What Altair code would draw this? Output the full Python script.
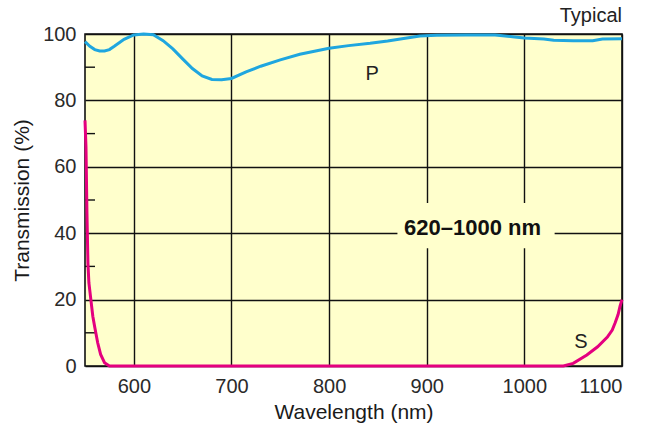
import altair as alt
import pandas as pd

# P-polarization transmission (%)
p_nm = [550, 555, 560, 565, 570, 575, 580, 590, 600, 610, 620, 630, 640, 650,
        660, 670, 680, 690, 700, 715, 730, 750, 770, 800, 820, 842, 860, 873,
        893, 910, 940, 970, 990, 1000, 1020, 1030, 1050, 1070, 1080, 1100]
p_val = [97.7, 96.3, 95.3, 94.9, 94.9, 95.3, 96.3, 98.4, 99.7, 100.0, 99.8,
         98.0, 95.5, 92.5, 89.6, 87.4, 86.3, 86.2, 86.6, 88.6, 90.3, 92.2,
         93.9, 95.7, 96.5, 97.2, 97.9, 98.5, 99.4, 99.6, 99.7, 99.7, 99.1,
         98.8, 98.5, 98.1, 98.0, 98.0, 98.5, 98.6]

# S-polarization transmission (%)
s_nm = [550, 551, 552, 553, 554, 556, 558, 560, 563, 566, 570, 575, 600, 700,
        800, 900, 1000, 1040, 1050, 1064, 1075, 1085, 1090, 1093, 1096, 1098, 1100]
s_val = [74, 66, 46, 31, 25, 20, 15, 11.7, 7, 3.5, 1.0, 0, 0, 0,
         0, 0, 0, 0, 0.8, 3.3, 5.8, 8.7, 10.8, 13, 15.5, 18.0, 20]

x_ticks = [600, 700, 800, 900, 1000, 1100]
y_ticks = [0, 20, 40, 60, 80, 100]
minor_y = [10, 30, 50, 70, 90]

curve_labels = ["P", "S"]
curve_label_nm = [844, 1058]
curve_label_val = [88, 7.3]

band_text = ["620–1000 nm"]
band_nm = [947]
band_val = [41.6]
# clear panel behind the band label
band_box_nm = [870, 1031]
band_box_val = [35.5, 49.1]

p_df = pd.DataFrame({"nm": p_nm, "t": p_val})
s_df = pd.DataFrame({"nm": s_nm, "t": s_val})
lab_df = pd.DataFrame({"nm": curve_label_nm, "t": curve_label_val, "txt": curve_labels})
band_df = pd.DataFrame({"nm": band_nm, "t": band_val, "txt": band_text})
box_df = pd.DataFrame({"nm": [band_box_nm[0]], "nm2": [band_box_nm[1]],
                       "t": [band_box_val[0]], "t2": [band_box_val[1]]})
minor_df = pd.DataFrame({"t": minor_y})

FONT = "Liberation Sans"
BG = "#ffffcc"
x_scale = alt.Scale(domain=[550, 1100], nice=False, zero=False)
y_scale = alt.Scale(domain=[0, 100], nice=False)

x_enc = alt.X("nm:Q", scale=x_scale, title="Wavelength (nm)",
              axis=alt.Axis(values=x_ticks, format="d", grid=True, gridColor="#111",
                            gridWidth=1.4, gridOpacity=1, ticks=False,
                            domain=False, labelPadding=10, labelFontSize=20,
                            labelColor="#2a2a2a", titleFontSize=21,
                            titleFontWeight="normal", titleColor="#1a1a1a",
                            titlePadding=5, labelFont=FONT, titleFont=FONT))
y_enc = alt.Y("t:Q", scale=y_scale, title="Transmission (%)",
              axis=alt.Axis(values=y_ticks, grid=True, gridColor="#111",
                            gridWidth=1.4, gridOpacity=1, ticks=False,
                            domain=False, labelPadding=9, labelFontSize=20,
                            labelColor="#2a2a2a", titleFontSize=21,
                            titleFontWeight="normal", titleColor="#1a1a1a",
                            titlePadding=10, labelFont=FONT, titleFont=FONT))

p_line = alt.Chart(p_df).mark_line(color="#1fa6df", strokeWidth=3).encode(x=x_enc, y=y_enc)
s_line = alt.Chart(s_df).mark_line(color="#e4007f", strokeWidth=3).encode(x="nm:Q", y="t:Q")

minor = alt.Chart(minor_df).mark_rule(color="#111", strokeWidth=1.4).encode(
    x=alt.value(0), x2=alt.value(10), y="t:Q")

band_box = alt.Chart(box_df).mark_rect(color=BG).encode(
    x="nm:Q", x2="nm2:Q", y="t:Q", y2="t2:Q")
band_label = alt.Chart(band_df).mark_text(
    font=FONT, fontSize=22, fontWeight="bold", color="#111").encode(
    x="nm:Q", y="t:Q", text="txt:N")

labels = alt.Chart(lab_df).mark_text(font=FONT, fontSize=20, color="#222").encode(
    x="nm:Q", y="t:Q", text="txt:N")

typical = alt.Chart(band_df).mark_text(
    text="Typical", font=FONT, fontSize=20, color="#222", align="right",
    baseline="alphabetic").encode(x=alt.value(537), y=alt.value(-12))

chart = alt.layer(p_line, band_box, minor, band_label, s_line, labels, typical).properties(
    width=537, height=332,
    autosize=alt.AutoSizeParams(type="none"),
    padding={"left": 85, "top": 34, "right": 25, "bottom": 63},
    background="white",
).configure_view(fill=BG, stroke="#111", strokeWidth=1.6)

chart.save("out.html", embed_options={"renderer": "svg", "actions": False})
